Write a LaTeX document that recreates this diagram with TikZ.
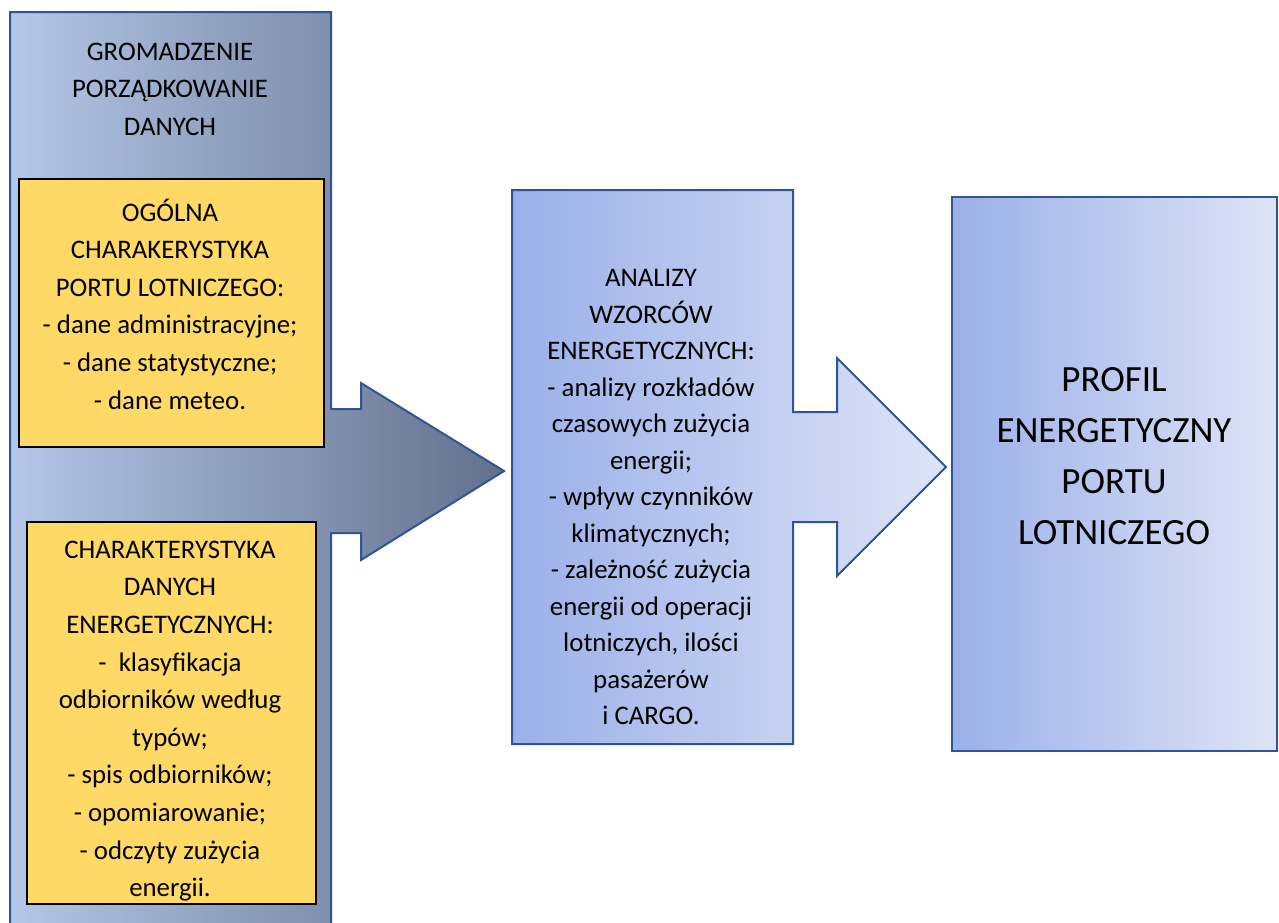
\documentclass[tikz,border=0pt]{standalone}
\usepackage{fontspec}
\setmainfont{Carlito}
\definecolor{edge}{RGB}{47,85,151}
\definecolor{ylw}{RGB}{255,217,102}
\definecolor{lpL}{RGB}{180,199,231}
\definecolor{lpR}{RGB}{98,112,140}
\definecolor{bL}{RGB}{155,176,233}
\definecolor{bR}{RGB}{222,228,246}
\begin{document}
\begin{tikzpicture}[x=1pt,y=-1pt,
  shapeline/.style={draw=edge, line width=2pt, line join=miter},
  ybox/.style={draw=black, line width=2pt, fill=ylw, anchor=north west, inner sep=0pt},
  txt/.style={align=center, font=\fontsize{26.8}{37.6}\selectfont, inner sep=0pt},
  midtxt/.style={align=center, font=\fontsize{26.8}{36.5}\selectfont, inner sep=0pt},
  bigtxt/.style={align=center, font=\fontsize{37}{51}\selectfont, inner sep=0pt}]
\useasboundingbox (0,0) rectangle (1279,922);
\begin{scope}
\clip (0,0) rectangle (1279,922);
% left panel with its arrow
\shadedraw[left color=lpL, right color=lpR, shapeline]
  (10,12) -- (331,12) -- (331,409) -- (361,409) -- (361,383) -- (504,471)
  -- (361,560) -- (361,533) -- (331,533) -- (331,940) -- (10,940) -- cycle;
\end{scope}
% yellow boxes
\node[ybox, minimum width=305pt, minimum height=268pt] (genbox) at (18,178) {};
\node[ybox, minimum width=289pt, minimum height=382pt] (enbox) at (26,521) {};
% middle box with its arrow
\shadedraw[left color=bL, right color=bR, shapeline]
  (512,190) -- (793,190) -- (793,412) -- (837,412) -- (837,358) -- (946,467)
  -- (837,576) -- (837,522) -- (793,522) -- (793,744) -- (512,744) -- cycle;
% right box
\shadedraw[left color=bL, right color=bR, shapeline] (952,197) rectangle (1277,751);
% texts
\node[txt] (hdr) at (170,89) {GROMADZENIE\\PORZĄDKOWANIE\\DANYCH};
\node[txt] (gen) at (170,304) {OGÓLNA\\CHARAKERYSTYKA\\PORTU LOTNICZEGO:\\- dane administracyjne;\\- dane statystyczne;\\- dane meteo.};
\node[txt] (en) at (170,721) {CHARAKTERYSTYKA\\DANYCH\\ENERGETYCZNYCH:\\-\ \ klasyfikacja\\odbiorników według\\typów;\\- spis odbiorników;\\- opomiarowanie;\\- odczyty zużycia\\energii.};
\node[midtxt] (ana) at (651,497) {ANALIZY\\WZORCÓW\\ENERGETYCZNYCH:\\- analizy rozkładów\\czasowych zużycia\\energii;\\- wpływ czynników\\klimatycznych;\\- zależność zużycia\\energii od operacji\\lotniczych, ilości\\pasażerów\\i CARGO.};
\node[bigtxt] (prof) at (1114,456) {PROFIL\\ENERGETYCZNY\\PORTU\\LOTNICZEGO};
\end{tikzpicture}
\end{document}
